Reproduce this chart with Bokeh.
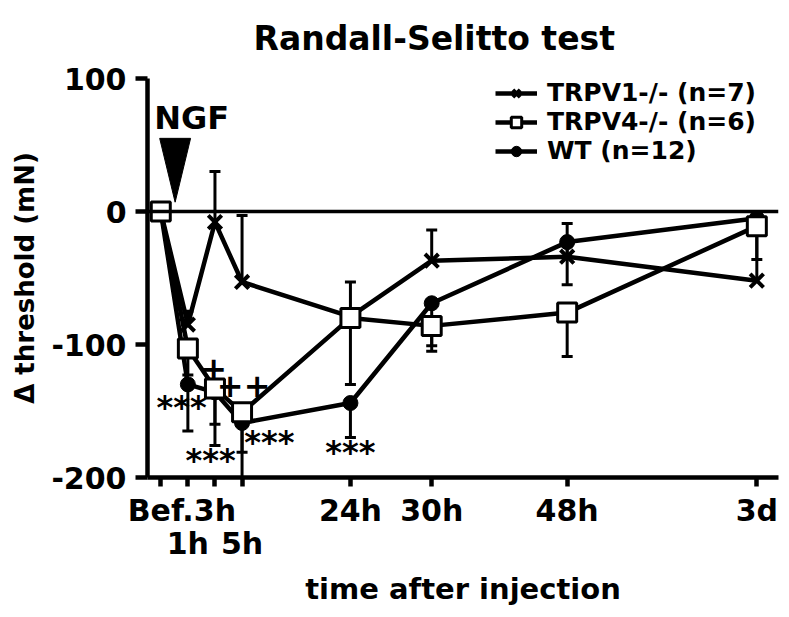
from bokeh.plotting import figure
from bokeh.models import (Range1d, FixedTicker, Span, Whisker, ColumnDataSource, Legend,
                          LegendItem, TeeHead, LinearAxis)
from bokeh.core.properties import value
from bokeh.embed import file_html
from bokeh.resources import INLINE

# ---- data ----
time_labels = ["Bef.", "1h", "3h", "5h", "24h", "30h", "48h", "3d"]
time_pos = [0, 1, 2, 3, 7, 10, 15, 22]
second_row = [1, 3]  # positions whose labels sit on a second row

trpv1 = [0, -85, -8, -53, -79, -37, -34, -52]
trpv1_sem = [0, 10, 38, 50, 26, 23, 25, 37]
trpv4 = [0, -103, -133, -151, -80, -86, -76, -11]
trpv4_sem = [0, 20, 27, 30, 50, 19, 33, 25]
wt = [0, -130, -136, -159, -144, -69, -23, -5]
wt_sem = [0, 35, 40, 45, 26, 32, 32, 10]

y_ticks = [100, 0, -100, -200]
y_tick_labels = ["100", "0", "-100", "-200"]

sig_x = [0.77, 1.84, 4.01, 7.0, 1.95, 3.06]
sig_y = [-147, -187, -173, -181, -118, -131]
sig_text = ["***", "***", "***", "***", "+", "++"]

ngf_x = 0.53
ngf_top = 55
ngf_tip = 7
ngf_half = 0.57

TITLE = "Randall-Selitto test"
FONT = "DejaVu Sans"

p = figure(width=789, height=617, output_backend="svg", toolbar_location=None,
           x_range=Range1d(-0.49, 22.8), y_range=Range1d(-200, 100),
           min_border_left=147, min_border_right=11, min_border_top=77, min_border_bottom=140)
p.outline_line_color = None
p.grid.visible = False
p.background_fill_color = "white"

p.title.text = TITLE
p.title.text_font = FONT
p.title.text_font_style = "bold"
p.title.text_font_size = "33px"
p.title.text_color = "black"
p.title.align = "left"
p.title.offset = 106
p.title.vertical_align = "top"
p.title.standoff = 37

def style_axis(ax):
    ax.axis_line_width = 4.5
    ax.major_tick_line_width = 4.5
    ax.major_tick_in = 0
    ax.minor_tick_line_color = None
    ax.major_label_text_font = FONT
    ax.major_label_text_font_style = "bold"
    ax.major_label_text_font_size = "30px"
    ax.major_label_text_color = "black"
    ax.axis_label_text_font = FONT
    ax.axis_label_text_font_style = "bold"
    ax.axis_label_text_color = "black"
    ax.axis_line_color = "black"
    ax.major_tick_line_color = "black"

style_axis(p.xaxis[0])
style_axis(p.yaxis[0])

p.yaxis.ticker = FixedTicker(ticks=y_ticks)
p.yaxis.major_label_overrides = dict(zip(y_ticks, y_tick_labels))
p.yaxis.major_tick_out = 12
p.yaxis.major_label_standoff = 9
p.yaxis.axis_label = "Δ threshold (mN)"
p.yaxis.axis_label_text_font_size = "26px"
p.yaxis.axis_label_standoff = 8

p.xaxis.ticker = FixedTicker(ticks=time_pos)
p.xaxis.major_label_overrides = {pos: ("" if pos in second_row else lab)
                                 for pos, lab in zip(time_pos, time_labels)}
p.xaxis.major_tick_out = 9
p.xaxis.major_label_standoff = 6

ax2 = LinearAxis(ticker=FixedTicker(ticks=second_row),
                 major_label_overrides={pos: lab for pos, lab in zip(time_pos, time_labels)
                                        if pos in second_row})
style_axis(ax2)
ax2.axis_line_color = None
ax2.major_tick_line_color = None
ax2.major_tick_out = 0
ax2.major_label_standoff = -5
ax2.axis_label = "time after injection"
ax2.axis_label_text_font_size = "29px"
ax2.axis_label_standoff = 8
p.add_layout(ax2, "below")

p.add_layout(Span(location=0, dimension="width", line_color="black", line_width=3.5))

# error bars (one direction, as in the original)
def bars(vals, sems, up):
    if up:
        lo = list(vals)
        hi = [v + s for v, s in zip(vals, sems)]
    else:
        lo = [v - s for v, s in zip(vals, sems)]
        hi = list(vals)
    src = ColumnDataSource(dict(base=time_pos, lower=lo, upper=hi))
    w = Whisker(source=src, base="base", lower="lower", upper="upper", line_width=3, line_color="black")
    head = TeeHead(size=11, line_width=3, line_color="black")
    if up:
        w.upper_head = head
        w.lower_head = None
    else:
        w.lower_head = head
        w.upper_head = None
    p.add_layout(w)

bars(wt, wt_sem, False)
bars(trpv1, trpv1_sem, True)
bars(trpv4, trpv4_sem, False)

# series
l_wt = p.line(time_pos, wt, line_width=4.5, color="black")
s_wt = p.scatter(time_pos, wt, marker="circle", size=15, color="black")
l_v1 = p.line(time_pos, trpv1, line_width=4.5, color="black")
s_v1 = p.scatter(time_pos, trpv1, marker="x", size=19, line_width=4, color="black")
l_v4 = p.line(time_pos, trpv4, line_width=4.5, color="black")
s_v4 = p.scatter(time_pos, trpv4, marker="square", size=19, line_width=3,
                 line_color="black", fill_color="white")

legend = Legend(items=[
    LegendItem(label="TRPV1-/- (n=7)", renderers=[l_v1, s_v1]),
    LegendItem(label="TRPV4-/- (n=6)", renderers=[l_v4, s_v4]),
    LegendItem(label="WT (n=12)", renderers=[l_wt, s_wt]),
], location="top_right")
legend.label_text_font = FONT
legend.label_text_font_style = "bold"
legend.label_text_font_size = "25px"
legend.label_text_color = "black"
legend.glyph_width = 42
legend.glyph_height = 26
legend.label_height = 26
legend.label_width = 231
legend.label_standoff = 10
legend.spacing = -2
legend.padding = 4
legend.margin = 0
legend.border_line_color = None
legend.background_fill_alpha = 0
p.add_layout(legend)

# NGF arrow and label
p.patch([ngf_x - ngf_half, ngf_x + ngf_half, ngf_x], [ngf_top, ngf_top, ngf_tip], color="black")
p.text([1.14], [70], text=["NGF"], text_font=value(FONT), text_font_style="bold",
       text_font_size="32px", text_align="center", text_baseline="middle", text_color="black")

# significance marks
p.text(sig_x, sig_y, text=sig_text, text_font=value(FONT), text_font_style="bold",
       text_font_size="32px", text_align="center", text_baseline="middle", text_color="black")

open("out.html", "w").write(file_html(p, INLINE))
